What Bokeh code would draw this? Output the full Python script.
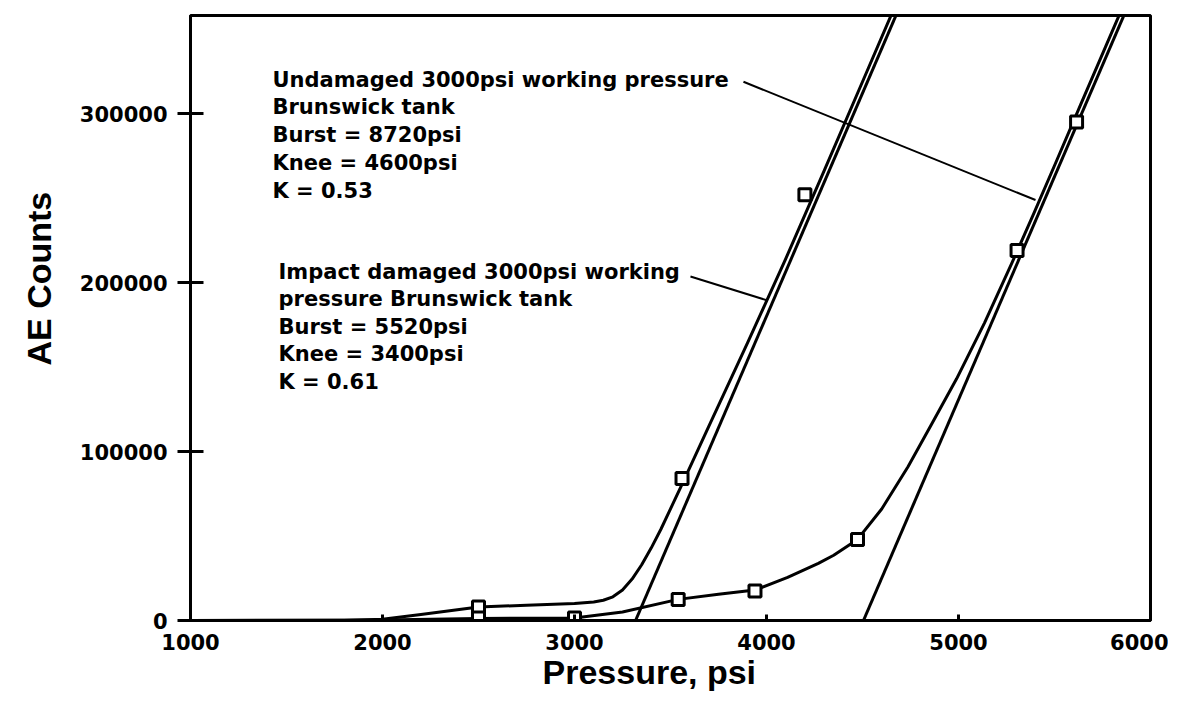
from bokeh.plotting import figure
from bokeh.models import Label, FixedTicker, BasicTickFormatter, Range1d, Title
from bokeh.embed import file_html
from bokeh.resources import INLINE

# ---------------- data ----------------
# Impact damaged tank: AE counts vs pressure (smooth curve)
damaged_p = [1000, 1800, 2000, 2200, 2500, 2750, 3000, 3100, 3150, 3200, 3250,
             3300, 3350, 3400, 3450, 3500, 3560, 3700, 3900, 4100, 4300, 4500, 4750]
damaged_c = [0, 0, 800, 3500, 8000, 9000, 10000, 11000, 12000, 14000, 18000,
             24500, 33000, 43000, 54000, 66000, 80500, 115000, 164000, 214000,
             266000, 318800, 384800]
damaged_mark_p = [2500, 3560, 4200]
damaged_mark_c = [8000, 84000, 252000]
damaged_fit_p = [3318, 4750]
damaged_fit_c = [0, 378000]

# Undamaged tank
undamaged_p = [1000, 2000, 2500, 3000, 3250, 3540, 3750, 3940, 4110, 4270, 4350,
               4474, 4600, 4737, 4859, 4990, 5135, 5276, 5393, 5507, 5635, 5768, 5908]
undamaged_c = [0, 300, 1200, 1500, 5000, 12500, 15500, 18000, 25500, 33800, 38600,
               48000, 66000, 91000, 116000, 143000, 176000, 211000, 241000, 271000,
               305000, 340000, 377000]
undamaged_mark_p = [2500, 3000, 3540, 3940, 4474, 5305, 5615]
undamaged_mark_c = [1500, 1500, 12500, 17500, 48000, 219000, 295000]
undamaged_fit_p = [4505, 5937]
undamaged_fit_c = [0, 378000]

# leader lines from the annotation texts to the curves
leader_undamaged_p = [3880, 5401]
leader_undamaged_c = [318800, 248800]
leader_damaged_p = [3604, 4005]
leader_damaged_c = [203600, 189400]

x_ticks = [1000, 2000, 3000, 4000, 5000, 6000]
y_ticks = [0, 100000, 200000, 300000]

x_title = "Pressure, psi"
y_title = "AE Counts"
undamaged_text = ["Undamaged 3000psi working pressure",
                  "Brunswick tank",
                  "Burst = 8720psi",
                  "Knee = 4600psi",
                  "K = 0.53"]
damaged_text = ["Impact damaged 3000psi working",
                "pressure Brunswick tank",
                "Burst = 5520psi",
                "Knee = 3400psi",
                "K = 0.61"]

# ---------------- figure ----------------
X0, X1 = 1000, 6000
Y0, Y1 = 0, 358000
FRAME_L, FRAME_R, FRAME_T, FRAME_B = 190, 1150, 15, 620
W, H = 1168, 712

p = figure(width=W, height=H, output_backend="svg", toolbar_location=None,
           x_range=Range1d(X0, X1), y_range=Range1d(Y0, Y1),
           min_border_left=FRAME_L, min_border_right=W - FRAME_R,
           min_border_top=FRAME_T, min_border_bottom=H - FRAME_B)
p.grid.visible = False
p.background_fill_color = "white"
p.border_fill_color = "white"
p.outline_line_color = "black"
p.outline_line_width = 3

FONT = "DejaVu Sans"
LABFONT = "Liberation Sans"

# axes
xa = p.xaxis[0]
xa.ticker = FixedTicker(ticks=x_ticks)
xa.formatter = BasicTickFormatter(use_scientific=False)
xa.axis_line_width = 3
xa.major_tick_line_width = 3
xa.major_tick_in = 6
xa.major_tick_out = 0
xa.minor_tick_line_color = None
xa.major_label_text_font = FONT
xa.major_label_text_font_style = "bold"
xa.major_label_text_font_size = "21px"
xa.major_label_text_color = "black"
xa.major_label_standoff = 13

ya = p.yaxis[0]
ya.ticker = FixedTicker(ticks=y_ticks)
ya.formatter = BasicTickFormatter(use_scientific=False)
ya.axis_line_width = 3
ya.major_tick_line_width = 3
ya.major_tick_in = 13
ya.major_tick_out = 13
ya.minor_tick_line_color = None
ya.major_label_text_font = FONT
ya.major_label_text_font_style = "bold"
ya.major_label_text_font_size = "21px"
ya.major_label_text_color = "black"
ya.major_label_standoff = 10

# axis titles as side titles (allow shifting along the axis)
p.add_layout(Title(text=x_title, align="left", offset=352, vertical_align="top",
                   standoff=0, text_font=LABFONT, text_font_style="bold",
                   text_font_size="34px", text_color="black"), "below")
p.add_layout(Title(text=y_title, align="left", offset=255, vertical_align="top",
                   standoff=34, text_font=LABFONT, text_font_style="bold",
                   text_font_size="34px", text_color="black"), "left")

# fit lines
p.line(damaged_fit_p, damaged_fit_c, line_color="black", line_width=3)
p.line(undamaged_fit_p, undamaged_fit_c, line_color="black", line_width=3)
# curves
p.line(damaged_p, damaged_c, line_color="black", line_width=3, line_join="round")
p.line(undamaged_p, undamaged_c, line_color="black", line_width=3, line_join="round")
# leaders
p.line(leader_undamaged_p, leader_undamaged_c, line_color="black", line_width=2)
p.line(leader_damaged_p, leader_damaged_c, line_color="black", line_width=2)
# markers
p.scatter(damaged_mark_p, damaged_mark_c, marker="square", size=12,
          fill_color="white", line_color="black", line_width=3)
p.scatter(undamaged_mark_p, undamaged_mark_c, marker="square", size=12,
          fill_color="white", line_color="black", line_width=3)


# annotation text (page pixel positions converted to data units)
def px_to_x(px):
    return X0 + (px - FRAME_L) / (FRAME_R - FRAME_L) * (X1 - X0)


def py_to_y(py):
    return Y0 + (FRAME_B - py) / (FRAME_B - FRAME_T) * (Y1 - Y0)


for i, t in enumerate(undamaged_text):
    p.add_layout(Label(x=px_to_x(272), y=py_to_y(79 + i * 27.75), text=t,
                       text_font=FONT, text_font_style="bold",
                       text_font_size="21px", text_color="black",
                       text_align="left", text_baseline="middle"))
for i, t in enumerate(damaged_text):
    p.add_layout(Label(x=px_to_x(278), y=py_to_y(271 + i * 27.5), text=t,
                       text_font=FONT, text_font_style="bold",
                       text_font_size="21px", text_color="black",
                       text_align="left", text_baseline="middle"))

open("out.html", "w").write(file_html(p, INLINE))
